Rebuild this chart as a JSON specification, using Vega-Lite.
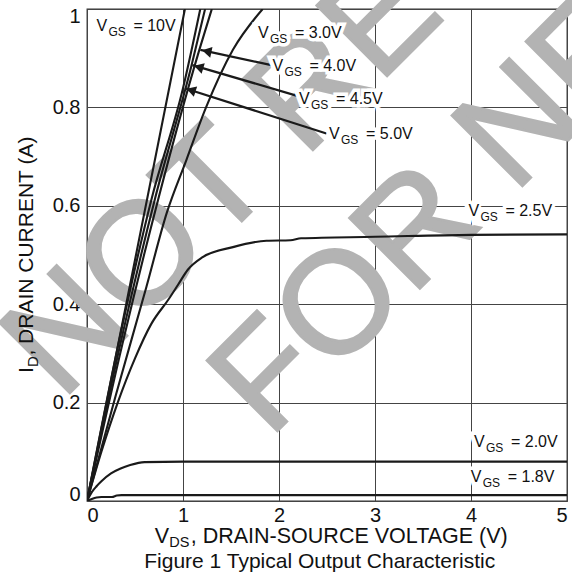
{
  "$schema": "https://vega.github.io/schema/vega-lite/v6.json",
  "width": 480,
  "height": 492,
  "autosize": {"type": "none"},
  "padding": {"left": 87, "top": 9, "right": 5, "bottom": 74},
  "background": "white",
  "config": {
    "font": "Liberation Sans",
    "view": {"stroke": "#333", "strokeWidth": 1.3},
    "axis": {"grid": true, "gridColor": "#444", "gridWidth": 1, "gridOpacity": 1, "domain": false, "ticks": false, "labelFontSize": 20, "labelColor": "#111", "labelFont": "Liberation Sans"},
    "axisX": {"labelPadding": 4},
    "axisY": {"labelPadding": 7, "labelFlush": true, "labelFlushOffset": 3}
  },
  "datasets": {
    "curves": [
      {"vgs": "1.8V", "vds": 0, "id": 0},
      {"vgs": "1.8V", "vds": 0.05, "id": 0.004},
      {"vgs": "1.8V", "vds": 0.1, "id": 0.007},
      {"vgs": "1.8V", "vds": 0.15, "id": 0.008},
      {"vgs": "1.8V", "vds": 0.26, "id": 0.008},
      {"vgs": "1.8V", "vds": 0.31, "id": 0.011},
      {"vgs": "1.8V", "vds": 0.36, "id": 0.012},
      {"vgs": "1.8V", "vds": 1, "id": 0.012},
      {"vgs": "1.8V", "vds": 5, "id": 0.012},
      {"vgs": "2.0V", "vds": 0, "id": 0},
      {"vgs": "2.0V", "vds": 0.05, "id": 0.018},
      {"vgs": "2.0V", "vds": 0.1, "id": 0.03},
      {"vgs": "2.0V", "vds": 0.15, "id": 0.04},
      {"vgs": "2.0V", "vds": 0.25, "id": 0.056},
      {"vgs": "2.0V", "vds": 0.35, "id": 0.066},
      {"vgs": "2.0V", "vds": 0.45, "id": 0.073},
      {"vgs": "2.0V", "vds": 0.6, "id": 0.079},
      {"vgs": "2.0V", "vds": 1, "id": 0.08},
      {"vgs": "2.0V", "vds": 5, "id": 0.08},
      {"vgs": "2.5V", "vds": 0, "id": 0},
      {"vgs": "2.5V", "vds": 0.15, "id": 0.1},
      {"vgs": "2.5V", "vds": 0.32, "id": 0.2},
      {"vgs": "2.5V", "vds": 0.5, "id": 0.29},
      {"vgs": "2.5V", "vds": 0.67, "id": 0.36},
      {"vgs": "2.5V", "vds": 0.85, "id": 0.41},
      {"vgs": "2.5V", "vds": 0.95, "id": 0.44},
      {"vgs": "2.5V", "vds": 1.05, "id": 0.47},
      {"vgs": "2.5V", "vds": 1.2, "id": 0.495},
      {"vgs": "2.5V", "vds": 1.52, "id": 0.516},
      {"vgs": "2.5V", "vds": 1.87, "id": 0.529},
      {"vgs": "2.5V", "vds": 2.12, "id": 0.53},
      {"vgs": "2.5V", "vds": 2.23, "id": 0.534},
      {"vgs": "2.5V", "vds": 3.0, "id": 0.537},
      {"vgs": "2.5V", "vds": 4.0, "id": 0.541},
      {"vgs": "2.5V", "vds": 5.0, "id": 0.542},
      {"vgs": "3.0V", "vds": 0, "id": 0},
      {"vgs": "3.0V", "vds": 0.3, "id": 0.215},
      {"vgs": "3.0V", "vds": 0.62, "id": 0.436},
      {"vgs": "3.0V", "vds": 0.83, "id": 0.585},
      {"vgs": "3.0V", "vds": 1.035, "id": 0.693},
      {"vgs": "3.0V", "vds": 1.24, "id": 0.8},
      {"vgs": "3.0V", "vds": 1.52, "id": 0.917},
      {"vgs": "3.0V", "vds": 1.83, "id": 1.0},
      {"vgs": "4.0V", "vds": 0, "id": 0},
      {"vgs": "4.0V", "vds": 0.37, "id": 0.32},
      {"vgs": "4.0V", "vds": 0.74, "id": 0.612},
      {"vgs": "4.0V", "vds": 1.17, "id": 0.917},
      {"vgs": "4.0V", "vds": 1.3, "id": 1.0},
      {"vgs": "4.5V", "vds": 0, "id": 0},
      {"vgs": "4.5V", "vds": 0.36, "id": 0.33},
      {"vgs": "4.5V", "vds": 0.705, "id": 0.612},
      {"vgs": "4.5V", "vds": 1.09, "id": 0.886},
      {"vgs": "4.5V", "vds": 1.23, "id": 1.0},
      {"vgs": "5.0V", "vds": 0, "id": 0},
      {"vgs": "5.0V", "vds": 0.35, "id": 0.34},
      {"vgs": "5.0V", "vds": 0.67, "id": 0.612},
      {"vgs": "5.0V", "vds": 1.0, "id": 0.839},
      {"vgs": "5.0V", "vds": 1.18, "id": 1.0},
      {"vgs": "10V", "vds": 0, "id": 0},
      {"vgs": "10V", "vds": 0.5, "id": 0.49},
      {"vgs": "10V", "vds": 1.02, "id": 1.0}
    ],
    "labels": [
      {"x": 0.098, "y": 0.966, "t": "= 10V"},
      {"x": 1.781, "y": 0.952, "t": "= 3.0V"},
      {"x": 1.931, "y": 0.884, "t": "= 4.0V"},
      {"x": 2.208, "y": 0.817, "t": "= 4.5V"},
      {"x": 2.521, "y": 0.746, "t": "= 5.0V"},
      {"x": 3.973, "y": 0.59, "t": "= 2.5V"},
      {"x": 4.031, "y": 0.119, "t": "= 2.0V"},
      {"x": 3.997, "y": 0.048, "t": "= 1.8V"}
    ],
    "arrows": [
      {"x": 1.921, "y": 0.886, "x2": 1.181, "y2": 0.917, "hx": 1.247, "hy": 0.914, "dir": 12},
      {"x": 2.216, "y": 0.822, "x2": 1.098, "y2": 0.886, "hx": 1.163, "hy": 0.882, "dir": 16.5},
      {"x": 2.494, "y": 0.747, "x2": 1.018, "y2": 0.839, "hx": 1.083, "hy": 0.835, "dir": 17.6}
    ]
  },
  "layer": [
    {
      "data": {"values": [
        {"x": -0.265, "y": 0.202, "t": "NOT RECOMMENDED"},
        {"x": 1.896, "y": 0.125, "t": "FOR NEW DESIGN"}
      ]},
      "mark": {"type": "text", "angle": 315, "fontSize": 145, "align": "left", "baseline": "alphabetic", "color": "#b3b3b3", "stroke": "#b3b3b3", "strokeWidth": 2.5, "font": "Liberation Sans"},
      "encoding": {
        "x": {"field": "x", "type": "quantitative", "scale": {"domain": [0, 5], "nice": false, "zero": false}, "axis": {"values": [0, 1, 2, 3, 4, 5], "format": "~g", "title": null}, "title": null},
        "y": {"field": "y", "type": "quantitative", "scale": {"domain": [0, 1], "nice": false, "zero": false}, "axis": {"values": [0, 0.2, 0.4, 0.6, 0.8, 1], "format": "~g", "title": null}, "title": null},
        "text": {"field": "t"}
      }
    },
    {
      "data": {"name": "curves"},
      "mark": {"type": "line", "color": "#1a1a1a", "strokeWidth": 2.1, "clip": true, "interpolate": "monotone"},
      "encoding": {
        "x": {"field": "vds", "type": "quantitative", "scale": {"domain": [0, 5], "nice": false, "zero": false}, "title": null},
        "y": {"field": "id", "type": "quantitative", "scale": {"domain": [0, 1], "nice": false, "zero": false}, "title": null},
        "detail": {"field": "vgs"}
      }
    },
    {
      "data": {"name": "arrows"},
      "mark": {"type": "rule", "color": "#1a1a1a", "strokeWidth": 2.2},
      "encoding": {
        "x": {"field": "x", "type": "quantitative", "scale": {"domain": [0, 5], "nice": false, "zero": false}, "title": null},
        "y": {"field": "y", "type": "quantitative", "scale": {"domain": [0, 1], "nice": false, "zero": false}, "title": null},
        "x2": {"field": "x2"},
        "y2": {"field": "y2"}
      }
    },
    {
      "data": {"name": "arrows"},
      "mark": {"type": "point", "shape": "triangle-left", "filled": true, "color": "#1a1a1a", "size": 120, "opacity": 1},
      "encoding": {
        "x": {"field": "hx", "type": "quantitative", "scale": {"domain": [0, 5], "nice": false, "zero": false}, "title": null},
        "y": {"field": "hy", "type": "quantitative", "scale": {"domain": [0, 1], "nice": false, "zero": false}, "title": null},
        "angle": {"field": "dir", "type": "quantitative", "scale": null}
      }
    },
    {
      "data": {"name": "labels"},
      "mark": {"type": "text", "align": "left", "baseline": "middle", "fontSize": 16, "fill": "white", "stroke": "white", "strokeWidth": 7, "dx": -1},
      "encoding": {
        "x": {"field": "x", "type": "quantitative", "scale": {"domain": [0, 5], "nice": false, "zero": false}, "title": null},
        "y": {"field": "y", "type": "quantitative", "scale": {"domain": [0, 1], "nice": false, "zero": false}, "title": null},
        "text": {"value": "V"}
      }
    },
    {
      "data": {"name": "labels"},
      "mark": {"type": "text", "align": "left", "baseline": "middle", "fontSize": 12, "fill": "white", "stroke": "white", "strokeWidth": 7, "dx": 12, "dy": 6},
      "encoding": {
        "x": {"field": "x", "type": "quantitative", "scale": {"domain": [0, 5], "nice": false, "zero": false}, "title": null},
        "y": {"field": "y", "type": "quantitative", "scale": {"domain": [0, 1], "nice": false, "zero": false}, "title": null},
        "text": {"value": "GS"}
      }
    },
    {
      "data": {"name": "labels"},
      "mark": {"type": "text", "align": "left", "baseline": "middle", "fontSize": 16, "fill": "white", "stroke": "white", "strokeWidth": 7, "dx": 37},
      "encoding": {
        "x": {"field": "x", "type": "quantitative", "scale": {"domain": [0, 5], "nice": false, "zero": false}, "title": null},
        "y": {"field": "y", "type": "quantitative", "scale": {"domain": [0, 1], "nice": false, "zero": false}, "title": null},
        "text": {"field": "t"}
      }
    },
    {
      "data": {"name": "labels"},
      "mark": {"type": "text", "align": "left", "baseline": "middle", "fontSize": 16, "color": "#111"},
      "encoding": {
        "x": {"field": "x", "type": "quantitative", "scale": {"domain": [0, 5], "nice": false, "zero": false}, "title": null},
        "y": {"field": "y", "type": "quantitative", "scale": {"domain": [0, 1], "nice": false, "zero": false}, "title": null},
        "text": {"value": "V"}
      }
    },
    {
      "data": {"name": "labels"},
      "mark": {"type": "text", "align": "left", "baseline": "middle", "fontSize": 12, "color": "#111", "dx": 12, "dy": 6},
      "encoding": {
        "x": {"field": "x", "type": "quantitative", "scale": {"domain": [0, 5], "nice": false, "zero": false}, "title": null},
        "y": {"field": "y", "type": "quantitative", "scale": {"domain": [0, 1], "nice": false, "zero": false}, "title": null},
        "text": {"value": "GS"}
      }
    },
    {
      "data": {"name": "labels"},
      "mark": {"type": "text", "align": "left", "baseline": "middle", "fontSize": 16, "color": "#111", "dx": 37},
      "encoding": {
        "x": {"field": "x", "type": "quantitative", "scale": {"domain": [0, 5], "nice": false, "zero": false}, "title": null},
        "y": {"field": "y", "type": "quantitative", "scale": {"domain": [0, 1], "nice": false, "zero": false}, "title": null},
        "text": {"field": "t"}
      }
    },
    {
      "data": {"values": [{"x": -0.566, "y": 0.26, "a": "I", "b": "D", "c": ", DRAIN CURRENT (A)"}]},
      "layer": [
        {"mark": {"type": "text", "angle": 270, "align": "left", "baseline": "alphabetic", "fontSize": 21, "color": "#111"}, "encoding": {"text": {"field": "a"}}},
        {"mark": {"type": "text", "angle": 270, "align": "left", "baseline": "alphabetic", "fontSize": 15, "color": "#111", "dx": 6, "dy": 5}, "encoding": {"text": {"field": "b"}}},
        {"mark": {"type": "text", "angle": 270, "align": "left", "baseline": "alphabetic", "fontSize": 21, "color": "#111", "dx": 17.5}, "encoding": {"text": {"field": "c"}}}
      ],
      "encoding": {
        "x": {"field": "x", "type": "quantitative", "scale": {"domain": [0, 5], "nice": false, "zero": false}, "title": null},
        "y": {"field": "y", "type": "quantitative", "scale": {"domain": [0, 1], "nice": false, "zero": false}, "title": null}
      }
    },
    {
      "data": {"values": [{"x": 0.706, "y": -0.0854, "a": "V", "b": "DS", "c": ", DRAIN-SOURCE VOLTAGE (V)"}]},
      "layer": [
        {"mark": {"type": "text", "align": "left", "baseline": "alphabetic", "fontSize": 21.5, "color": "#111"}, "encoding": {"text": {"field": "a"}}},
        {"mark": {"type": "text", "align": "left", "baseline": "alphabetic", "fontSize": 14.5, "color": "#111", "dx": 14.5, "dy": 4}, "encoding": {"text": {"field": "b"}}},
        {"mark": {"type": "text", "align": "left", "baseline": "alphabetic", "fontSize": 21.5, "color": "#111", "dx": 36}, "encoding": {"text": {"field": "c"}}}
      ],
      "encoding": {
        "x": {"field": "x", "type": "quantitative", "scale": {"domain": [0, 5], "nice": false, "zero": false}, "title": null},
        "y": {"field": "y", "type": "quantitative", "scale": {"domain": [0, 1], "nice": false, "zero": false}, "title": null}
      }
    },
    {
      "data": {"values": [{"x": 2.424, "y": -0.136, "t": "Figure 1 Typical Output Characteristic"}]},
      "mark": {"type": "text", "align": "center", "baseline": "alphabetic", "fontSize": 21, "color": "#111"},
      "encoding": {
        "x": {"field": "x", "type": "quantitative", "scale": {"domain": [0, 5], "nice": false, "zero": false}, "title": null},
        "y": {"field": "y", "type": "quantitative", "scale": {"domain": [0, 1], "nice": false, "zero": false}, "title": null},
        "text": {"field": "t"}
      }
    }
  ]
}
